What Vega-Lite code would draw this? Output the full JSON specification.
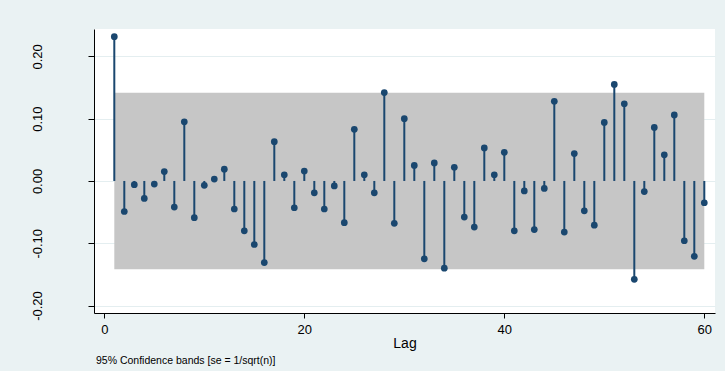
{
  "$schema": "https://vega.github.io/schema/vega-lite/v6.json",
  "width": 621,
  "height": 284,
  "autosize": {"type": "none"},
  "padding": {"left": 94, "top": 29, "right": 10, "bottom": 58},
  "background": "#eaf2f3",
  "config": {
    "view": {"fill": "white", "stroke": null},
    "font": "Liberation Sans"
  },
  "title": {
    "text": "95% Confidence bands [se = 1/sqrt(n)]",
    "orient": "bottom",
    "anchor": "start",
    "frame": "group",
    "dx": 2,
    "offset": 6,
    "fontSize": 10.5,
    "fontWeight": "normal",
    "color": "#000000",
    "font": "Liberation Sans"
  },
  "datasets": {
    "acf": [
      {"lag": 1, "ac": 0.2316}, {"lag": 2, "ac": -0.049}, {"lag": 3, "ac": -0.006}, {"lag": 4, "ac": -0.028},
      {"lag": 5, "ac": -0.005}, {"lag": 6, "ac": 0.015}, {"lag": 7, "ac": -0.042}, {"lag": 8, "ac": 0.095},
      {"lag": 9, "ac": -0.059}, {"lag": 10, "ac": -0.007}, {"lag": 11, "ac": 0.003}, {"lag": 12, "ac": 0.019},
      {"lag": 13, "ac": -0.045}, {"lag": 14, "ac": -0.080}, {"lag": 15, "ac": -0.102}, {"lag": 16, "ac": -0.131},
      {"lag": 17, "ac": 0.063}, {"lag": 18, "ac": 0.010}, {"lag": 19, "ac": -0.043}, {"lag": 20, "ac": 0.016},
      {"lag": 21, "ac": -0.019}, {"lag": 22, "ac": -0.045}, {"lag": 23, "ac": -0.008}, {"lag": 24, "ac": -0.067},
      {"lag": 25, "ac": 0.083}, {"lag": 26, "ac": 0.010}, {"lag": 27, "ac": -0.019}, {"lag": 28, "ac": 0.142},
      {"lag": 29, "ac": -0.068}, {"lag": 30, "ac": 0.100}, {"lag": 31, "ac": 0.025}, {"lag": 32, "ac": -0.125},
      {"lag": 33, "ac": 0.029}, {"lag": 34, "ac": -0.140}, {"lag": 35, "ac": 0.022}, {"lag": 36, "ac": -0.058},
      {"lag": 37, "ac": -0.074}, {"lag": 38, "ac": 0.053}, {"lag": 39, "ac": 0.010}, {"lag": 40, "ac": 0.046},
      {"lag": 41, "ac": -0.080}, {"lag": 42, "ac": -0.016}, {"lag": 43, "ac": -0.078}, {"lag": 44, "ac": -0.012},
      {"lag": 45, "ac": 0.128}, {"lag": 46, "ac": -0.082}, {"lag": 47, "ac": 0.044}, {"lag": 48, "ac": -0.048},
      {"lag": 49, "ac": -0.071}, {"lag": 50, "ac": 0.094}, {"lag": 51, "ac": 0.155}, {"lag": 52, "ac": 0.124},
      {"lag": 53, "ac": -0.158}, {"lag": 54, "ac": -0.017}, {"lag": 55, "ac": 0.086}, {"lag": 56, "ac": 0.042},
      {"lag": 57, "ac": 0.106}, {"lag": 58, "ac": -0.096}, {"lag": 59, "ac": -0.121}, {"lag": 60, "ac": -0.035}
    ],
    "band": [
      {"lag": 1, "lo": -0.1417, "hi": 0.1417},
      {"lag": 60, "lo": -0.1417, "hi": 0.1417}
    ]
  },
  "layer": [
    {
      "data": {"name": "band"},
      "mark": {"type": "area", "color": "#c6c6c6", "opacity": 1},
      "encoding": {
        "x": {
          "field": "lag", "type": "quantitative",
          "scale": {"domain": [-1.03, 61.07], "nice": false, "zero": false},
          "axis": {
            "values": [0, 20, 40, 60], "title": "Lag", "grid": false,
            "domainColor": "#000000", "tickColor": "#000000", "tickSize": 5,
            "labelFontSize": 13, "labelColor": "#000000", "labelPadding": 5,
            "titleFontSize": 14, "titleFontWeight": "normal", "titleColor": "#000000", "titlePadding": 0
          }
        },
        "y": {
          "field": "lo", "type": "quantitative",
          "scale": {"domain": [-0.212, 0.244], "nice": false, "zero": false},
          "axis": {
            "values": [-0.2, -0.1, 0, 0.1, 0.2], "format": ".2f", "title": null,
            "labelExpr": "replace(datum.label, '\u2212', '-')",
            "grid": true, "gridColor": "#e4eef0", "gridWidth": 1,
            "domainColor": "#000000", "tickColor": "#000000", "tickSize": 6,
            "labelAngle": 270, "labelAlign": "center", "labelBaseline": "bottom",
            "labelFontSize": 13, "labelColor": "#000000", "labelPadding": 44
          }
        },
        "y2": {"field": "hi"}
      }
    },
    {
      "data": {"name": "acf"},
      "mark": {"type": "rule", "color": "#1a476f", "strokeWidth": 2},
      "encoding": {
        "x": {"field": "lag", "type": "quantitative"},
        "y": {"field": "ac", "type": "quantitative"},
        "y2": {"datum": 0}
      }
    },
    {
      "data": {"name": "acf"},
      "mark": {"type": "circle", "color": "#1a476f", "size": 45, "opacity": 1},
      "encoding": {
        "x": {"field": "lag", "type": "quantitative"},
        "y": {"field": "ac", "type": "quantitative"}
      }
    }
  ]
}
